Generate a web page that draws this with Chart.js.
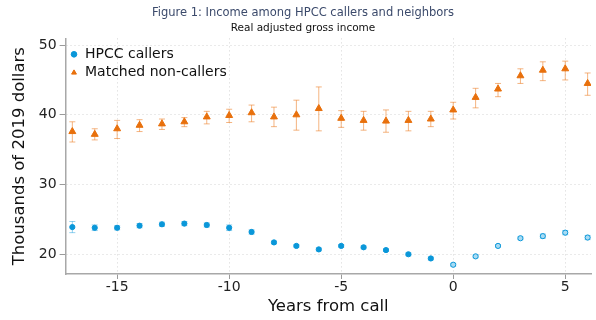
<!DOCTYPE html>
<html>
<head>
<meta charset="utf-8">
<script src="https://cdn.jsdelivr.net/npm/chart.js@4"></script>
<style>
html,body{margin:0;padding:0;background:#fff;}
</style>
</head>
<body>
<canvas id="incomeChart" width="596" height="320"></canvas>
<script>
// years relative to the call
const years = [-17,-16,-15,-14,-13,-12,-11,-10,-9,-8,-7,-6,-5,-4,-3,-2,-1,0,1,2,3,4,5,6];

const callers   = [23.9,23.8,23.8,24.1,24.3,24.4,24.2,23.8,23.2,21.7,21.2,20.7,21.2,21.0,20.6,20.0,19.4,18.5,19.7,21.2,22.3,22.6,23.1,22.4];
const callersLo = [23.1,23.4,23.5,23.8,24.0,24.1,23.9,23.4,22.9,21.5,21.0,20.5,21.0,20.8,20.4,19.8,19.2,18.3,19.5,21.0,22.1,22.3,22.8,22.1];
const callersHi = [24.7,24.2,24.1,24.4,24.6,24.7,24.5,24.2,23.5,21.9,21.4,20.9,21.4,21.2,20.8,20.2,19.6,18.7,19.9,21.4,22.5,22.9,23.4,22.7];

const nonCallers   = [37.6,37.2,38.0,38.5,38.7,39.0,39.7,39.9,40.3,39.7,40.0,40.9,39.5,39.2,39.1,39.2,39.4,40.7,42.5,43.7,45.6,46.4,46.6,44.5];
const nonCallersLo = [36.1,36.4,36.6,37.6,37.9,38.3,38.7,38.9,39.0,38.3,37.8,37.7,38.2,37.8,37.5,37.7,38.3,39.4,41.0,42.6,44.5,44.9,45.0,42.8];
const nonCallersHi = [39.0,38.0,39.2,39.3,39.4,39.6,40.5,40.8,41.4,41.1,42.1,44.0,40.6,40.5,40.7,40.5,40.5,41.8,43.8,44.5,46.6,47.6,47.7,46.0];

const xTicks = [-15,-10,-5,0,5];
const yTicks = [20,30,40,50];

const BLUE = '#0a97d9';
const ORANGE = '#e8700c';
const FONT = "'DejaVu Sans', sans-serif";

// lower/upper bounds per dataset, drawn as capped bars under the markers
const ciBounds = [
    {lo: callersLo, hi: callersHi, color: 'rgba(10,151,217,0.45)'},
    {lo: nonCallersLo, hi: nonCallersHi, color: 'rgba(236,130,45,0.6)'}
];

const errorBars = {
    id: 'errorBars',
    beforeDatasetsDraw(chart) {
        const ctx = chart.ctx;
        const xs = chart.scales.x, ys = chart.scales.y;
        ciBounds.forEach(function(b, i) {
            if (!chart.isDatasetVisible(i)) return;
            ctx.save();
            ctx.strokeStyle = b.color;
            ctx.lineWidth = 1;
            b.lo.forEach(function(lo, j) {
                const x = xs.getPixelForValue(years[j]);
                const y1 = ys.getPixelForValue(lo);
                const y2 = ys.getPixelForValue(b.hi[j]);
                ctx.beginPath();
                ctx.moveTo(x, y1); ctx.lineTo(x, y2);
                ctx.moveTo(x - 3, y1); ctx.lineTo(x + 3, y1);
                ctx.moveTo(x - 3, y2); ctx.lineTo(x + 3, y2);
                ctx.stroke();
            });
            ctx.restore();
        });
    }
};

const toPoints = arr => arr.map((v, i) => ({x: years[i], y: v}));

new Chart(document.getElementById('incomeChart').getContext('2d'), {
    type: 'scatter',
    data: {
        datasets: [{
            label: 'HPCC callers',
            data: toPoints(callers),
            pointStyle: 'circle',
            pointRadius: 2.6,
            borderWidth: 1,
            borderColor: BLUE,
            backgroundColor: ctx => (years[ctx.dataIndex] >= 0 ? '#a9dbf3' : BLUE)
        }, {
            label: 'Matched non-callers',
            data: toPoints(nonCallers),
            pointStyle: 'triangle',
            pointRadius: 4,
            borderWidth: 1,
            borderColor: ORANGE,
            backgroundColor: ORANGE
        }]
    },
    options: {
        responsive: false,
        animation: false,
        layout: {padding: {left: 10, right: 0, top: 0, bottom: 0}},
        plugins: {
            title: {
                display: true,
                text: 'Figure 1: Income among HPCC callers and neighbors',
                color: '#3b4a6b',
                font: {family: FONT, size: 11.5, weight: 'normal'},
                padding: {top: 6, bottom: 2}
            },
            subtitle: {
                display: true,
                text: 'Real adjusted gross income',
                color: '#111',
                font: {family: FONT, size: 10.5},
                padding: {top: 0, bottom: 4}
            },
            legend: {
                position: 'chartArea',
                align: 'start',
                // vertical legend box starts at the canvas top, so the empty title pushes rows down
                title: {display: true, text: '', font: {size: 1, lineHeight: 1}, padding: {top: 41.9, bottom: 0}},
                labels: {
                    usePointStyle: true,
                    boxWidth: 8,
                    boxHeight: 4,
                    padding: 4.4,
                    color: '#111',
                    font: {family: FONT, size: 14}
                }
            },
            tooltip: {enabled: false}
        },
        scales: {
            x: {
                type: 'linear',
                min: -17.3,
                max: 6.15,
                afterBuildTicks: s => { s.ticks = xTicks.map(v => ({value: v})); },
                grid: {color: '#d4d4d4', tickColor: '#9a9a9a', tickLength: 5},
                border: {color: '#a8a8a8', width: 1.5, dash: [1, 3]},
                ticks: {color: '#222', padding: 0, font: {family: FONT, size: 14}},
                title: {display: true, text: 'Years from call', color: '#111', padding: {top: 1, bottom: 3.4}, font: {family: FONT, size: 16.5}}
            },
            y: {
                min: 17.17,
                max: 50.96,
                afterBuildTicks: s => { s.ticks = yTicks.map(v => ({value: v})); },
                grid: {color: '#d4d4d4', tickColor: '#9a9a9a', tickLength: 6},
                border: {color: '#a8a8a8', width: 1.5, dash: [1, 3]},
                ticks: {color: '#222', padding: 3, font: {family: FONT, size: 14}},
                title: {display: true, text: 'Thousands of 2019 dollars', color: '#111', padding: {top: 0, bottom: 6}, font: {family: FONT, size: 16.5}}
            }
        }
    },
    plugins: [errorBars]
});
</script>
</body>
</html>
